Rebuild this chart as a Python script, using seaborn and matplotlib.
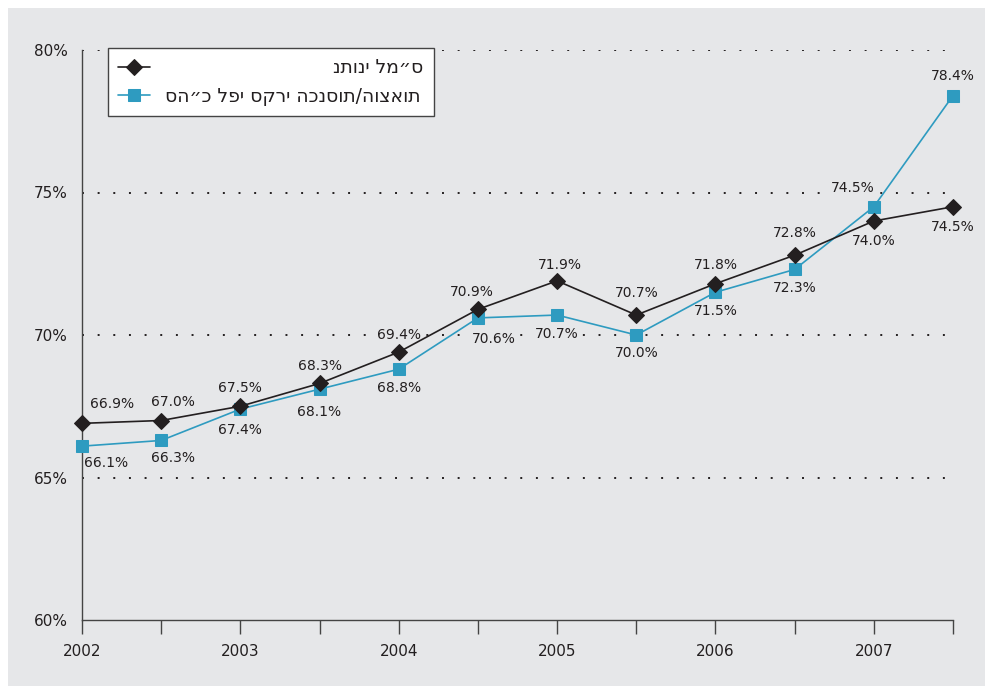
import pandas as pd
import matplotlib.pyplot as plt
import matplotlib.patches as mpatches
import seaborn as sns

# half-year periods 2002 .. 2007.5
periods = [2002, 2002.5, 2003, 2003.5, 2004, 2004.5, 2005, 2005.5, 2006, 2006.5, 2007, 2007.5]
cbs_values = [66.9, 67.0, 67.5, 68.3, 69.4, 70.9, 71.9, 70.7, 71.8, 72.8, 74.0, 74.5]
survey_values = [66.1, 66.3, 67.4, 68.1, 68.8, 70.6, 70.7, 70.0, 71.5, 72.3, 74.5, 78.4]
y_ticks = [60, 65, 70, 75, 80]

cbs_label = "נתוני למ״ס"
survey_label = "סה״כ לפי סקרי הכנסות/הוצאות"

# label offsets in pixels (dx, dy)
cbs_offsets = [(30, 19), (12, 18), (0, 18), (0, 17), (0, 17), (-6, 17),
               (3, 16), (0, 22), (0, 19), (0, 22), (0, -20), (0, -20)]
survey_offsets = [(24, -17), (12, -18), (0, -21), (0, -23), (0, -19), (16, -21),
                  (0, -19), (0, -18), (0, -19), (0, -19), (-21, 19), (0, 20)]

black = "#231f20"
blue = "#2e9bc0"
bg = "#e6e7e9"

sns.set_theme(style="white")
plt.rcParams["font.family"] = ["DejaVu Sans"]

fig = plt.figure(figsize=(9.85, 6.86), dpi=100, facecolor="white")
fig.patches.append(mpatches.Rectangle((8 / 985, 0), 1, 1 - 8 / 686, transform=fig.transFigure,
                                      facecolor=bg, edgecolor="none", zorder=-10))
ax = fig.add_axes([82 / 985, 66 / 686, 871 / 985, 570 / 686])
ax.set_facecolor(bg)

df = pd.DataFrame({"period": periods, "cbs": cbs_values, "survey": survey_values})

sns.lineplot(data=df, x="period", y="cbs", ax=ax, color=black, lw=1.2, marker="D",
             markersize=8, markeredgecolor=black, label="a", clip_on=False, zorder=4)
sns.lineplot(data=df, x="period", y="survey", ax=ax, color=blue, lw=1.2, marker="s",
             markersize=8.5, markeredgecolor=blue, label="b", clip_on=False, zorder=3)

# labels sit on a background box so the dotted grid does not run through them
box = dict(boxstyle="square,pad=0.1", facecolor=bg, edgecolor="none")
for x, v, (dx, dy) in zip(periods, cbs_values, cbs_offsets):
    ax.annotate(f"{v:.1f}%", (x, v), xytext=(dx, dy), textcoords="offset pixels",
                ha="center", va="center", fontsize=10, color=black, bbox=box, zorder=2)
for x, v, (dx, dy) in zip(periods, survey_values, survey_offsets):
    ax.annotate(f"{v:.1f}%", (x, v), xytext=(dx, dy), textcoords="offset pixels",
                ha="center", va="center", fontsize=10, color=black, bbox=box, zorder=2)

ax.set_xlim(2002, 2007.5)
ax.set_ylim(60, 80)
ax.set_xlabel("")
ax.set_ylabel("")

xt_labels = []
for p in periods:
    xt_labels.append(str(int(p)) if p == int(p) else "")
ax.set_xticks(periods, xt_labels)
ax.set_yticks(y_ticks, [f"{t}%" for t in y_ticks])
ax.tick_params(axis="x", direction="out", length=10, width=1, color="#444444",
               labelsize=11, labelcolor=black, pad=7, bottom=True)
ax.tick_params(axis="y", length=0, labelsize=11, labelcolor=black, pad=10)

for t in y_ticks[1:]:
    ax.axhline(t, color=black, lw=1.4, linestyle=(0, (1, 7.05)), zorder=1)

for side in ["top", "right"]:
    ax.spines[side].set_visible(False)
for side in ["left", "bottom"]:
    ax.spines[side].set_color("#444444")
    ax.spines[side].set_linewidth(1)

# legend: right-align the hebrew labels by padding the shorter one
fs = 13.5
renderer = fig.canvas.get_renderer()
t1 = ax.text(0, 0, cbs_label, fontsize=fs)
t2 = ax.text(0, 0, survey_label, fontsize=fs)
ts = ax.text(0, 0, "x" + " " * 20 + "x", fontsize=fs)
tx = ax.text(0, 0, "xx", fontsize=fs)
w1 = t1.get_window_extent(renderer).width
w2 = t2.get_window_extent(renderer).width
wsp = (ts.get_window_extent(renderer).width - tx.get_window_extent(renderer).width) / 20
for t in (t1, t2, ts, tx):
    t.remove()
pad = int(round((w2 - w1) / wsp))

handles, _ = ax.get_legend_handles_labels()
leg = ax.legend(handles, [" " * pad + cbs_label, survey_label],
                loc="upper left", bbox_to_anchor=(26 / 871, 1 + 2 / 570), borderaxespad=0,
                fontsize=fs, frameon=True, fancybox=False, framealpha=1, edgecolor="#444444",
                handlelength=1.7, handletextpad=0.8, borderpad=0.55, labelspacing=0.5)
leg.get_frame().set_linewidth(1)
for txt in leg.get_texts():
    txt.set_color(black)

fig.savefig("out.png", dpi=100, facecolor=fig.get_facecolor())
